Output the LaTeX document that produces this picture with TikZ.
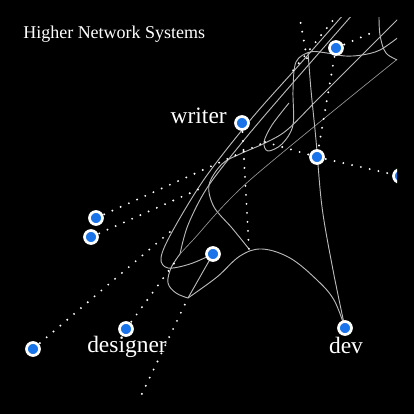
\documentclass[tikz,border=0pt]{standalone}
\usepackage{fontspec}
\setmainfont{Liberation Serif}
\definecolor{nodeblue}{RGB}{26,115,232}
\definecolor{edgegray}{RGB}{185,185,185}
\definecolor{thingray}{RGB}{150,150,150}
\begin{document}
\begin{tikzpicture}[x=0.75pt,y=-0.75pt,
  vtx/.style={circle,draw=white,line width=2pt,fill=nodeblue,minimum size=9.75pt,inner sep=0pt},
  dots/.style={white,line width=1.6pt,line cap=round,dash pattern=on 0pt off 6.75pt},
  curve/.style={edgegray,line width=0.7pt},
  thincurve/.style={thingray,line width=0.5pt},
  lbl/.style={text=white,font=\fontsize{17.6pt}{20pt}\selectfont,inner sep=0pt},
  ttl/.style={text=white,font=\fontsize{13.5pt}{16pt}\selectfont,inner sep=0pt},
]
\fill[black] (0,0) rectangle (414,414);
\useasboundingbox (0,0) rectangle (414,414);

% visible node positions
\coordinate (A) at (336,48);
\coordinate (W) at (242,123);
\coordinate (B) at (317,157);
\coordinate (C) at (400,176);
\coordinate (D) at (96,218);
\coordinate (E) at (91,237);
\coordinate (F) at (213,254);
\coordinate (Dn) at (126,329);
\coordinate (G) at (33,349);
\coordinate (Dv) at (345,328);
% hidden junctions
\coordinate (H1) at (265,142);
\coordinate (H2) at (206,186);
\coordinate (H3) at (171,231);
\coordinate (H4) at (178,258);
\coordinate (H5) at (138,402);
\coordinate (V1) at (188,298);
\coordinate (V2) at (249,249);
\coordinate (V3) at (180,254);
\coordinate (H8) at (376,31);
\coordinate (H9) at (299,14);
\coordinate (H10) at (308,64);
\coordinate (H11) at (338,14);
\coordinate (H12) at (291,73);

\begin{scope}
\clip (17,17) rectangle (397,397);
% gray curves
\draw[curve] plot[smooth,tension=0.55] coordinates {(344,14) (300,64) (252,118) (205,178) (172,232) (161,258) (168,268) (190,264) (F)};
\draw[curve] plot[smooth,tension=0.55] coordinates {(353,14) (278,100) (240,145) (207,188) (188,225) (V3)};
\draw[curve] plot[smooth,tension=0.55] coordinates {(400,17) (360,57) (317,100) (287,130) (265,143) (240,154) (222,164) (209,185) (214,207) (232,228) (V2)};
\draw[thincurve] plot[smooth,tension=0.5] coordinates {(400,57) (250,180) (193,240) (V3)};
\draw[curve] plot[smooth,tension=0.6] coordinates {(379,14) (380,35) (386,53) (400,61)};
\draw[curve] plot[smooth,tension=0.55] coordinates {(400,36) (380,50) (362,55) (345,56) (327,53) (310,52) (296,62) (293,90) (293,125) (282,144) (268,151) (264,142) (272,125) (289,103)};
\draw[curve] plot[smooth,tension=0.55] coordinates {(308,52) (311,90) (316,140) (322,207) (333,270) (Dv)};
\draw[curve] plot[smooth,tension=0.6] coordinates {(V3) (171,268) (168,283) (176,293) (V1)};
\draw[curve] (F) -- (V1);
\draw[curve] plot[smooth,tension=0.6] coordinates {(V1) (217,277) (240,256) (262,249) (290,258) (317,280) (334,300) (Dv)};
% dotted connectors
\draw[dots] (D) -- (H1);
\draw[dots] (H1) -- (B);
\draw[dots] (E) -- (H2);
\draw[dots] (G) -- (H3);
\draw[dots] (Dn) -- (H4);
\draw[dots] (H5) -- (V1);
\draw[dots] (W) -- (V2);
\draw[dots] (A) -- (B);
\draw[dots] (B) -- (C);
\draw[dots] (A) -- (H8);
\draw[dots] (H9) -- (H10);
\draw[dots] (H11) -- (H12);
% nodes
\node[vtx] (nA) at (A) {};
\node[vtx] (nW) at (W) {};
\node[vtx] (nB) at (B) {};
\node[vtx] (nC) at (C) {};
\node[vtx] (nD) at (D) {};
\node[vtx] (nE) at (E) {};
\node[vtx] (nF) at (F) {};
\node[vtx] (nDn) at (Dn) {};
\node[vtx] (nG) at (G) {};
\node[vtx] (nDv) at (Dv) {};
\end{scope}

\node[ttl,anchor=base west] (title) at (23,38) {Higher Network Systems};
\node[lbl,anchor=base east] (lw) at (227,123) {writer};
\node[lbl,anchor=base] (ldn) at (127,352.5) {designer};
\node[lbl,anchor=base] (ldv) at (346,353.5) {dev};
\end{tikzpicture}
\end{document}
